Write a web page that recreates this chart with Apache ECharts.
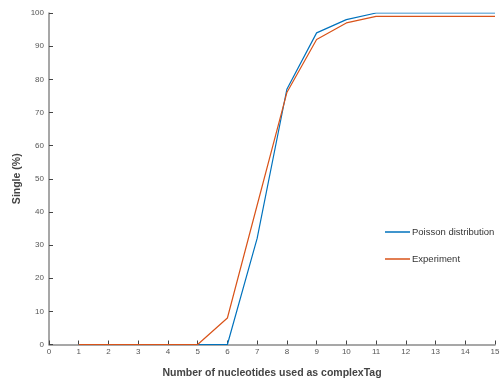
<!DOCTYPE html>
<html>
<head>
<meta charset="utf-8">
<script src="https://cdn.jsdelivr.net/npm/echarts@6/dist/echarts.min.js"></script>
<style>
  html, body { margin: 0; padding: 0; background: #fff; }
  #chart { width: 500px; height: 381px; }
</style>
</head>
<body>
<div id="chart"></div>
<script>
// nucleotides 1..15
const nucleotides = [1, 2, 3, 4, 5, 6, 7, 8, 9, 10, 11, 12, 13, 14, 15]
const poisson = [0, 0, 0, 0, 0, 0, 32, 77, 94, 98, 100, 100, 100, 100, 100]
const experiment = [0, 0, 0, 0, 0, 8, 42, 76, 92, 97, 99, 99, 99, 99, 99]

const axisGray = '#8a8a8a'
const font = 'Liberation Sans, Arial, Helvetica, sans-serif'

const pairs = vals => nucleotides.map((n, i) => [n, vals[i]])

const chart = echarts.init(document.getElementById('chart'))

const option = {
    animation: false,
    textStyle: { fontFamily: font },
    grid: { left: 49, right: 5, top: 13, bottom: 36.5, outerBoundsMode: 'none' },
    legend: {
        orient: 'vertical',
        left: 380,
        top: 222,
        icon: 'rect',
        itemWidth: 25,
        itemHeight: 1.5,
        itemGap: 17,
        textStyle: { fontSize: 9.5, color: '#333', fontFamily: font, padding: [0, 0, 0, -3] },
        data: ['Poisson distribution', 'Experiment']
    },
    xAxis: {
        type: 'value',
        min: 0,
        max: 15,
        interval: 1,
        name: 'Number of nucleotides used as complexTag',
        nameLocation: 'middle',
        nameGap: 23,
        nameMoveOverlap: false,
        nameTextStyle: { fontSize: 10.5, fontWeight: 'bold', color: '#444' },
        axisLine: { lineStyle: { color: axisGray, width: 1.5 } },
        axisTick: { inside: true, length: 4, lineStyle: { color: '#444' } },
        axisLabel: { fontSize: 8, color: '#555', margin: 3 },
        splitLine: { show: false }
    },
    yAxis: {
        type: 'value',
        min: 0,
        max: 100,
        interval: 10,
        name: 'Single (%)',
        nameLocation: 'middle',
        nameGap: 26,
        nameMoveOverlap: false,
        nameTextStyle: { fontSize: 10.5, fontWeight: 'bold', color: '#444' },
        axisLine: { show: true, lineStyle: { color: axisGray, width: 1.5 } },
        axisTick: { show: true, inside: true, length: 4, lineStyle: { color: '#444' } },
        axisLabel: { fontSize: 8, color: '#555', margin: 5 },
        splitLine: { show: false }
    },
    series: [
        {
            name: 'Poisson distribution',
            type: 'line',
            data: pairs(poisson),
            showSymbol: false,
            color: '#0072BD',
            lineStyle: { width: 1.2 }
        },
        {
            name: 'Experiment',
            type: 'line',
            data: pairs(experiment),
            showSymbol: false,
            color: '#D95319',
            lineStyle: { width: 1.2 }
        }
    ]
}

chart.setOption(option)
</script>
</body>
</html>
